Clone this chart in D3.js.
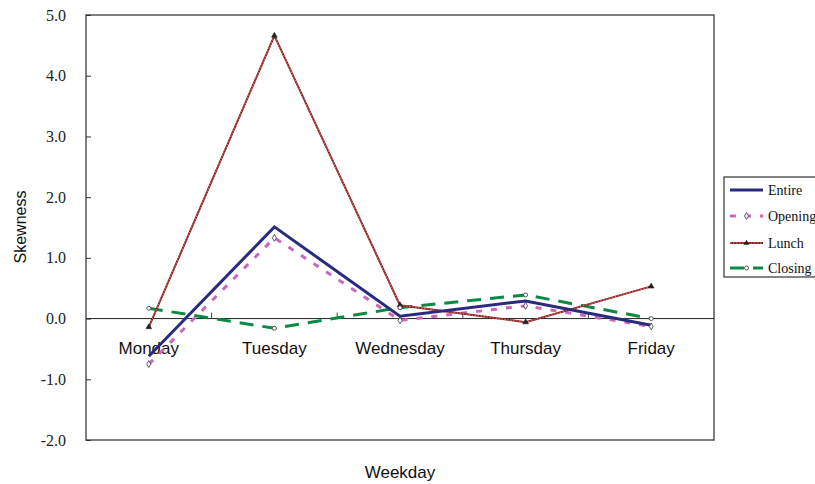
<!DOCTYPE html>
<html><head><meta charset="utf-8">
<script src="https://cdn.jsdelivr.net/npm/d3@7"></script>
<style>body{margin:0;background:#fff}svg{display:block}</style>
</head><body>
<svg id="c" width="815" height="484"></svg>
<script>
const days = ["Monday","Tuesday","Wednesday","Thursday","Friday"];
const entire  = [-0.62, 1.51, 0.04, 0.29, -0.11];
const opening = [-0.75, 1.33, -0.03, 0.21, -0.13];
const lunch   = [-0.14, 4.66, 0.22, -0.06, 0.53];
const closing = [0.17, -0.16, 0.18, 0.39, 0.0];
const yTicks = [-2,-1,0,1,2,3,4,5];
const seriesNames = ["Entire","Opening","Lunch","Closing"];

const svg = d3.select("#c");
const L=86, R=714, T=15, B=440;
const x = d3.scaleBand().domain(days).range([L,R]);
const y = d3.scaleLinear().domain([-2,5]).range([B,T]);
const cx = d => x(d)+x.bandwidth()/2;

// plot frame
svg.append("rect").attr("x",L).attr("y",T).attr("width",R-L).attr("height",B-T)
  .attr("fill","none").attr("stroke","#555").attr("stroke-width",1.5);

// y axis ticks (inward) and labels
const yAxis = d3.axisLeft(y).tickValues(yTicks).tickSize(-5).tickFormat(d=>d.toFixed(1)).tickPadding(20);
const ga = svg.append("g").attr("transform",`translate(${L},0)`).call(yAxis);
ga.select(".domain").remove();
ga.selectAll(".tick line").attr("stroke","#333");
ga.selectAll(".tick text").attr("font-family","Liberation Serif, serif").attr("font-size",16).attr("fill","#222");

// zero line
svg.append("line").attr("x1",L).attr("x2",R).attr("y1",y(0)).attr("y2",y(0)).attr("stroke","#222").attr("stroke-width",1);
// category boundary ticks on zero line
days.slice(1).forEach(d=>{
  svg.append("line").attr("x1",x(d)).attr("x2",x(d)).attr("y1",y(0)).attr("y2",y(0)-6).attr("stroke","#444");
});
// category labels
days.forEach(d=>{
  svg.append("text").attr("x",cx(d)).attr("y",y(0)+35).attr("text-anchor","middle")
    .attr("font-family","Liberation Sans, Arial, sans-serif").attr("font-size",17).attr("fill","#111").text(d);
});

// axis titles
svg.append("text").attr("transform","translate(26,227) rotate(-90)").attr("text-anchor","middle")
  .attr("font-family","Liberation Sans, Arial, sans-serif").attr("font-size",16).attr("fill","#111").text("Skewness");
svg.append("text").attr("x",400).attr("y",478).attr("text-anchor","middle")
  .attr("font-family","Liberation Sans, Arial, sans-serif").attr("font-size",17).attr("fill","#111").text("Weekday");

const line = d3.line().x((d,i)=>cx(days[i])).y(d=>y(d));
const g = svg.append("g");
// Closing
g.append("path").attr("d",line(closing)).attr("fill","none").attr("stroke","#0B8A44").attr("stroke-width",3).attr("stroke-dasharray","14,9");
// Opening
g.append("path").attr("d",line(opening)).attr("fill","none").attr("stroke","#CC66BB").attr("stroke-width",3).attr("stroke-dasharray","6,9");
// Lunch
g.append("path").attr("d",line(lunch)).attr("fill","none").attr("stroke","#8B1A1A").attr("stroke-width",2);
g.append("path").attr("d",line(lunch)).attr("fill","none").attr("stroke","#E9B8B8").attr("stroke-width",0.7).attr("stroke-dasharray","1.5,1.5");
// Entire
g.append("path").attr("d",line(entire)).attr("fill","none").attr("stroke","#2A2A7E").attr("stroke-width",3);

// markers
const sym = (type,size)=>d3.symbol().type(type).size(size)();
opening.forEach((v,i)=>g.append("path").attr("d",sym(d3.symbolDiamond,14)).attr("transform",`translate(${cx(days[i])},${y(v)})`).attr("fill","#fff").attr("stroke","#333").attr("stroke-width",0.8));
lunch.forEach((v,i)=>g.append("path").attr("d",sym(d3.symbolTriangle,14)).attr("transform",`translate(${cx(days[i])},${y(v)})`).attr("fill","#222").attr("stroke","#222").attr("stroke-width",0.6));
closing.forEach((v,i)=>g.append("circle").attr("cx",cx(days[i])).attr("cy",y(v)).attr("r",2).attr("fill","#fff").attr("stroke","#333").attr("stroke-width",0.8));

// legend
const lg = svg.append("g");
lg.append("rect").attr("x",724).attr("y",177).attr("width",100).attr("height",100).attr("fill","#fff").attr("stroke","#333").attr("stroke-width",1.2);
const ly = [190,216,243,268];
const lx1=730, lx2=763;
lg.append("line").attr("x1",lx1).attr("x2",lx2).attr("y1",ly[0]).attr("y2",ly[0]).attr("stroke","#2A2A7E").attr("stroke-width",3);
lg.append("line").attr("x1",lx1).attr("x2",lx2).attr("y1",ly[1]).attr("y2",ly[1]).attr("stroke","#CC66BB").attr("stroke-width",3).attr("stroke-dasharray","6,9");
lg.append("path").attr("d",sym(d3.symbolDiamond,14)).attr("transform",`translate(746.5,${ly[1]})`).attr("fill","#fff").attr("stroke","#333").attr("stroke-width",0.8);
lg.append("line").attr("x1",lx1).attr("x2",lx2).attr("y1",ly[2]).attr("y2",ly[2]).attr("stroke","#8B1A1A").attr("stroke-width",2);
lg.append("line").attr("x1",lx1).attr("x2",lx2).attr("y1",ly[2]).attr("y2",ly[2]).attr("stroke","#E9B8B8").attr("stroke-width",0.7).attr("stroke-dasharray","1.5,1.5");
lg.append("path").attr("d",sym(d3.symbolTriangle,14)).attr("transform",`translate(746.5,${ly[2]})`).attr("fill","#222");
lg.append("line").attr("x1",lx1).attr("x2",lx2).attr("y1",ly[3]).attr("y2",ly[3]).attr("stroke","#0B8A44").attr("stroke-width",3).attr("stroke-dasharray","14,9");
lg.append("circle").attr("cx",746.5).attr("cy",ly[3]).attr("r",2).attr("fill","#fff").attr("stroke","#333").attr("stroke-width",0.8);
seriesNames.forEach((n,i)=>{
  lg.append("text").attr("x",768).attr("y",ly[i]+5).attr("font-family","Liberation Serif, serif").attr("font-size",14).attr("fill","#111").text(n);
});
</script>
</body></html>
